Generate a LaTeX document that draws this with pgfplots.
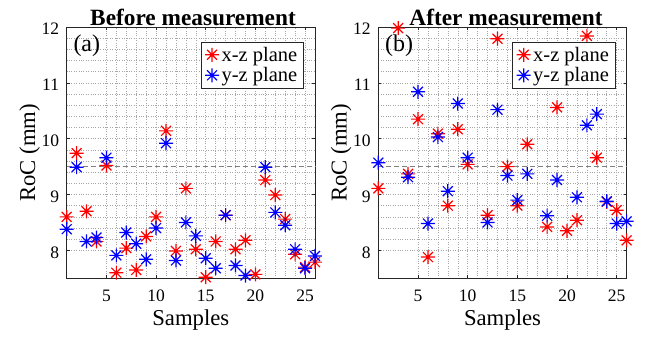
\documentclass[border=0pt]{standalone}
\usepackage{fontspec}
\setmainfont{Liberation Serif}
\usepackage{pgfplots}
\pgfplotsset{compat=1.18}
\usepackage{pgfplotstable}

\pgfdeclareplotmark{mstar}{%
  \pgfpathmoveto{\pgfqpoint{-\pgfplotmarksize}{0pt}}\pgfpathlineto{\pgfqpoint{\pgfplotmarksize}{0pt}}%
  \pgfpathmoveto{\pgfqpoint{0pt}{-\pgfplotmarksize}}\pgfpathlineto{\pgfqpoint{0pt}{\pgfplotmarksize}}%
  \pgfpathmoveto{\pgfqpoint{-0.7071\pgfplotmarksize}{-0.7071\pgfplotmarksize}}\pgfpathlineto{\pgfqpoint{0.7071\pgfplotmarksize}{0.7071\pgfplotmarksize}}%
  \pgfpathmoveto{\pgfqpoint{-0.7071\pgfplotmarksize}{0.7071\pgfplotmarksize}}\pgfpathlineto{\pgfqpoint{0.7071\pgfplotmarksize}{-0.7071\pgfplotmarksize}}%
  \pgfusepathqstroke}

\pgfplotstableread{
x y
1 8.60
2 9.74
3 8.70
4 8.16
5 9.52
6 7.60
7 8.04
8 7.65
9 8.25
10 8.60
11 10.14
12 7.99
13 9.11
14 8.02
15 7.52
16 8.16
17 8.63
18 8.02
19 8.18
20 7.57
21 9.26
22 8.99
23 8.56
24 7.93
25 7.70
26 7.79
}\redA

\pgfplotstableread{
x y
1 8.38
2 9.49
3 8.16
4 8.23
5 9.66
6 7.91
7 8.32
8 8.12
9 7.84
10 8.40
11 9.92
12 7.82
13 8.50
14 8.26
15 7.86
16 7.68
17 8.63
18 7.73
19 7.55
21 9.49
22 8.68
23 8.45
24 8.02
25 7.68
26 7.90
}\blueA

\pgfplotstableread{
x y
1 9.11
3 11.98
4 9.37
5 10.35
6 7.88
7 10.09
8 8.80
9 10.17
10 9.54
12 8.63
13 11.79
14 9.50
15 8.80
16 9.90
18 8.42
19 10.56
20 8.35
21 8.54
22 11.84
23 9.66
24 8.87
25 8.72
26 8.18
}\redB

\pgfplotstableread{
x y
1 9.57
4 9.31
5 10.84
6 8.48
7 10.03
8 9.06
9 10.63
10 9.66
12 8.50
13 10.52
14 9.34
15 8.90
16 9.37
18 8.62
19 9.26
21 8.95
22 10.24
23 10.44
24 8.88
25 8.48
26 8.52
}\blueB

\pgfplotsset{
  myax/.style={
    scale only axis, width=248.3pt, height=251.3pt,
    anchor=south west,
    xmin=1, xmax=26, ymin=7.5, ymax=12,
    xtick={5,10,15,20,25}, ytick={8,9,10,11,12},
    minor x tick num=4, minor y tick num=4,
    grid=both,
    major grid style={dotted, black!35, line width=0.5pt},
    minor grid style={dotted, black!35, line width=0.5pt},
    axis line style={black!85, line width=0.8pt},
    tick style={black!85, line width=0.6pt},
    tick align=inside, major tick length=3pt, minor tick length=0pt,
    xtick pos=both, ytick pos=both,
    tick label style={font=\fontsize{17.5}{17.5}\selectfont, /pgf/number format/assume math mode=true},
    xticklabel style={anchor=north, inner sep=0pt, yshift=-11.7pt},
    yticklabel style={anchor=east, inner sep=0pt, xshift=-7.4pt, yshift=-2pt},
    clip=false,
    legend style={at={(0.956,0.9415)}, anchor=north east, draw=black!85, line width=0.6pt, fill=white,
      font=\fontsize{20.5}{20.5}\selectfont, inner xsep=4pt, inner ysep=2.5pt, row sep=0pt,
      nodes={inner xsep=2.5pt, inner ysep=2.4pt}},
    legend cell align=left,
    legend image code/.code={\draw[mark repeat=2,mark phase=2,##1] plot coordinates {(0pt,0pt)(10pt,0pt)(20pt,0pt)};},
    redst/.style={only marks, mark=mstar, mark size=7pt, red, line width=1.2pt},
    bluest/.style={only marks, mark=mstar, mark size=7pt, blue, line width=1.2pt},
  }
}

\begin{document}
\begin{tikzpicture}[x=1pt,y=1pt]
\path[use as bounding box] (0,0) rectangle (649,337);

\begin{axis}[myax, at={(66.7pt,58.7pt)}]
\addplot[gray, dashed, dash pattern=on 5pt off 3pt, line width=0.8pt, forget plot] coordinates {(1,9.5) (26,9.5)};
\addplot[redst] table[x=x,y=y] {\redA};
\addlegendentry{x-z plane}
\addplot[bluest] table[x=x,y=y] {\blueA};
\addlegendentry{y-z plane}
\end{axis}

\begin{axis}[myax, at={(378.3pt,58.7pt)}]
\addplot[gray, dashed, dash pattern=on 5pt off 3pt, line width=0.8pt, forget plot] coordinates {(1,9.5) (26,9.5)};
\addplot[redst] table[x=x,y=y] {\redB};
\addlegendentry{x-z plane}
\addplot[bluest] table[x=x,y=y] {\blueB};
\addlegendentry{y-z plane}
\end{axis}

\node[anchor=base, inner sep=0pt, font=\bfseries\fontsize{23.3}{23.3}\selectfont] at (193,311.3) {Before measurement};
\node[anchor=base, inner sep=0pt, font=\bfseries\fontsize{23.3}{23.3}\selectfont] at (506,311.3) {After measurement};
\node[anchor=base west, inner sep=0pt, font=\fontsize{24}{24}\selectfont] at (73.3,285.7) {(a)};
\node[anchor=base west, inner sep=0pt, font=\fontsize{24}{24}\selectfont] at (384.9,285.7) {(b)};
\node[anchor=base, inner sep=0pt, font=\fontsize{22.7}{22.7}\selectfont] at (190.8,11) {Samples};
\node[anchor=base, inner sep=0pt, font=\fontsize{22.7}{22.7}\selectfont] at (502.5,11) {Samples};
\node[anchor=base, inner sep=0pt, rotate=90, font=\fontsize{22.7}{22.7}\selectfont] at (35,184.3) {RoC (mm)};
\node[anchor=base, inner sep=0pt, rotate=90, font=\fontsize{22.7}{22.7}\selectfont] at (346.6,184.3) {RoC (mm)};
\end{tikzpicture}
\end{document}
